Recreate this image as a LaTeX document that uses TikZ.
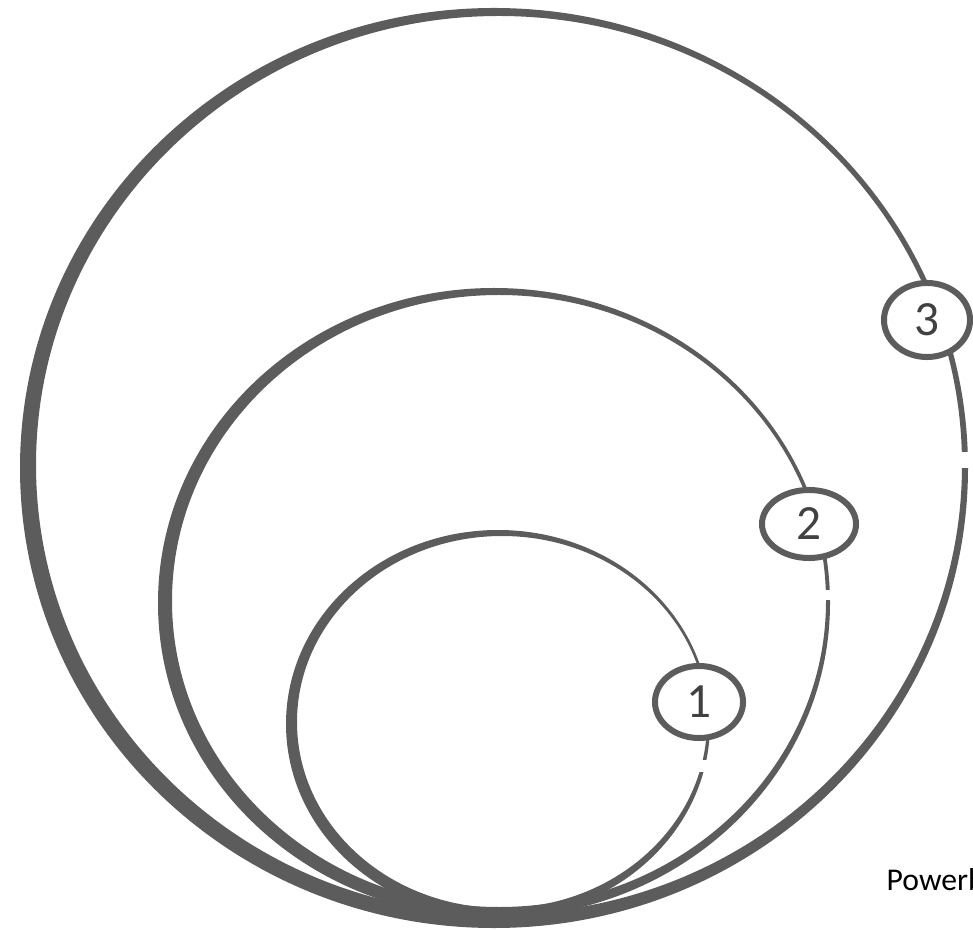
\documentclass[tikz,border=0pt]{standalone}
\usepackage{fontspec}
\setmainfont{Carlito}
\usetikzlibrary{shapes.geometric}
\definecolor{pencilGray}{RGB}{92, 92, 92}

\begin{document}
\begin{tikzpicture}[x=0.01cm, y=-0.01cm,
    ring/.style={fill=pencilGray, even odd rule},
    numtag/.style={ellipse, draw=pencilGray, line width=0.6mm, fill=white,
      inner sep=0pt, font=\fontsize{14}{16}\selectfont, text=pencilGray!70!black}]
  \useasboundingbox (0,0) rectangle (973,931);

  % outer ring 3, heavy stroke on the left side
  \fill[ring] (494,468) ellipse [x radius=474, y radius=460]
              (499,465) ellipse [x radius=463, y radius=449];

  % middle ring 2
  \fill[ring] (494,603) ellipse [x radius=336, y radius=315]
              (499,601) ellipse [x radius=327, y radius=306];

  % inner ring 1
  \fill[ring] (498,724) ellipse [x radius=212, y radius=194]
              (502,722) ellipse [x radius=205, y radius=186];

  % small breaks in the hand-drawn strokes
  \fill[white] (950,452) rectangle (972,468);
  \fill[white] (818,590) rectangle (836,600);
  \fill[white] (698,760) rectangle (716,772);

  % number tags sitting on the rings
  \node[numtag, minimum width=0.86cm, minimum height=0.74cm] (tag3) at (927,320) {3};
  \node[numtag, minimum width=0.94cm, minimum height=0.68cm] (tag2) at (809,524) {2};
  \node[numtag, minimum width=0.88cm, minimum height=0.72cm] (tag1) at (699,702) {1};

  \node[anchor=base west, inner sep=0pt, font=\fontsize{9}{11}\selectfont] (credit) at (886,890) {Powerb};
\end{tikzpicture}
\end{document}
